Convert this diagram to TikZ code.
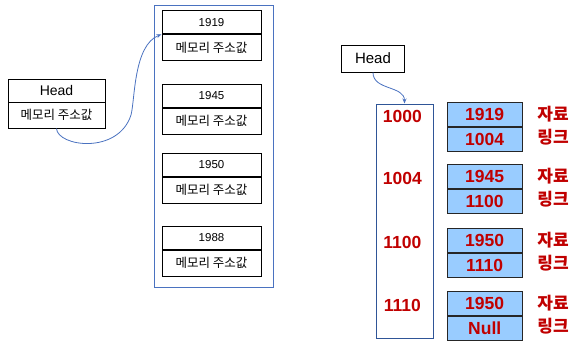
\documentclass[tikz,border=0pt]{standalone}
\usepackage{fontspec}
\setmainfont{Liberation Sans}
\newfontfamily\kr{Noto Sans CJK KR}
\usetikzlibrary{arrows.meta}
\definecolor{memblue}{HTML}{4A72C0}
\definecolor{darkblue}{HTML}{2F5597}
\definecolor{cellblue}{HTML}{99CCFF}
\definecolor{darkred}{HTML}{C00000}
\tikzset{
  cellL/.style={draw=black, line width=1pt, minimum width=99pt, inner sep=0pt},
  cellTop/.style={cellL, minimum height=23pt, font=\fontsize{11.5}{13}\selectfont},
  cellBot/.style={cellL, minimum height=26pt, font=\kr\fontsize{12.5}{14}\selectfont},
  headL/.style={cellL, minimum width=97pt, minimum height=23pt, font=\fontsize{14}{16}\selectfont},
  memrect/.style={draw=memblue, line width=1pt, inner sep=0pt},
  cellR/.style={draw=black!85, line width=0.8pt, fill=cellblue, minimum width=74.7pt, minimum height=24pt, inner sep=0pt, text=darkred, font=\bfseries\fontsize{17.5}{19}\selectfont},
  addr/.style={text=darkred, font=\bfseries\fontsize{17.5}{19}\selectfont, inner sep=0pt},
  krlab/.style={text=darkred, font=\kr\bfseries\fontsize{17}{19}\selectfont, inner sep=0pt},
  link/.style={draw=memblue, line width=0.8pt, -{Stealth[length=5pt,width=4pt]}},
}
\begin{document}
\begin{tikzpicture}[x=1pt,y=-1pt]
\useasboundingbox (0,0) rectangle (580,348);
% ---------- left ----------
\node[memrect, minimum width=119pt, minimum height=282pt] (memL) at (213.5,146) {};
\node[headL] (ht) at (56.5,90.5) {Head};
\node[headL, minimum height=26pt, font=\kr\fontsize{12.5}{14}\selectfont] (hb) at (56.5,115) {메모리 주소값};
\foreach \i/\y/\v in {1/22.3/1919, 2/95.5/1945, 3/164.5/1950, 4/237.5/1988}{
  \node[cellTop] (t\i) at (211.5,\y) {\v};
  \node[cellBot, anchor=north] (b\i) at (t\i.south) {메모리 주소값};
}
\coordinate (bend) at (131,115);
\draw[link] (hb.south) .. controls +(1,18) and +(-13,40) .. (bend)
  .. controls +(4,-15) and +(-28,11) .. (t1.south west);
% ---------- right ----------
\node[draw=black, line width=1pt, minimum width=62.6pt, minimum height=27pt, inner sep=0pt, font=\fontsize{15}{17}\selectfont] (hr) at (373,58.5) {Head};
\node[draw=darkblue, line width=1pt, minimum width=57pt, minimum height=234pt, inner sep=0pt] (memR) at (404.5,221) {};
\draw[link] (hr.south) .. controls +(0,18) and +(0,-18) .. (memR.north);
\foreach \i/\y/\a/\d/\l in {1/102/1000/1919/1004, 2/164/1004/1945/1100, 3/228/1100/1950/1110, 4/291/1110/1950/Null}{
  \node[cellR, anchor=north] (d\i) at (484.7,\y) {\d};
  \node[cellR, anchor=north] (l\i) at (d\i.south) {\l};
  \node[addr] (a\i) at (402.3,\y+14) {\a};
  \node[krlab] (kd\i) at (553,\y+12) {자료};
  \node[krlab] (kl\i) at (553,\y+35) {링크};
}
\end{tikzpicture}
\end{document}
